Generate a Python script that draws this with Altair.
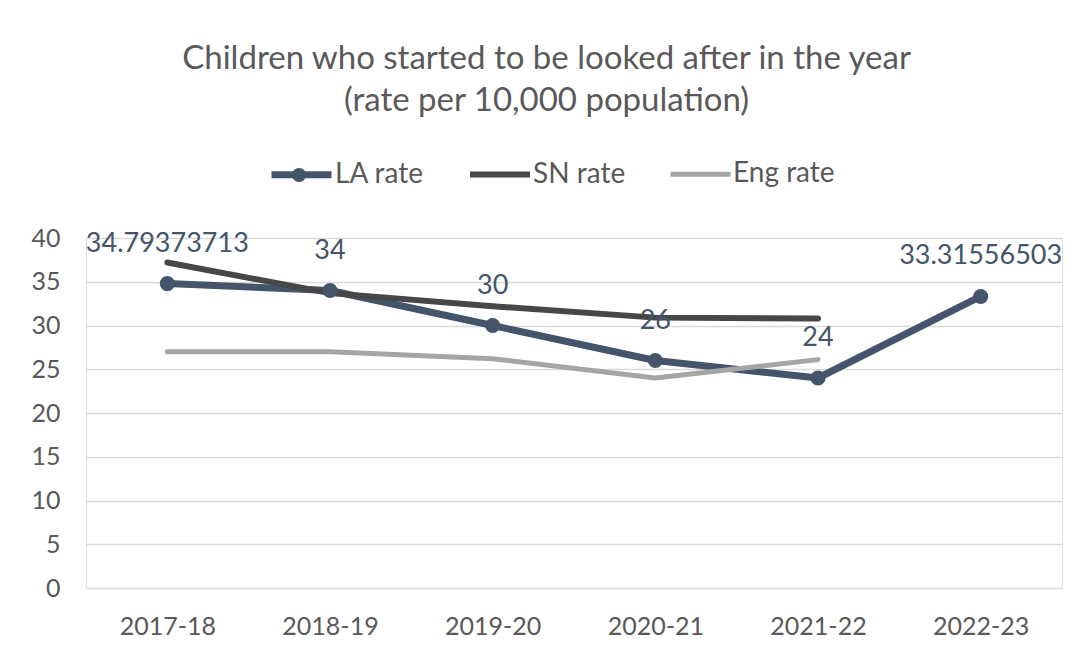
import altair as alt
import pandas as pd

years = ["2017-18", "2018-19", "2019-20", "2020-21", "2021-22", "2022-23"]
series_names = ["LA rate", "SN rate", "Eng rate"]
la_rate = [34.79373713, 34, 30, 26, 24, 33.31556503]
la_labels = ["34.79373713", "34", "30", "26", "24", "33.31556503"]
sn_rate = [37.2, 33.7, 32.2, 30.9, 30.8, None]
eng_rate = [27.0, 27.0, 26.2, 24.0, 26.1, None]
y_ticks = [0, 5, 10, 15, 20, 25, 30, 35, 40]
colors = ["#44546A", "#474747", "#A5A5A5"]
widths = [7, 5, 5]

rows = []
for name, vals in zip(series_names, [la_rate, sn_rate, eng_rate]):
    for yr, v in zip(years, vals):
        if v is not None:
            rows.append({"year": yr, "series": name, "value": v})
df = pd.DataFrame(rows)
la_df = pd.DataFrame({"year": years, "value": la_rate, "label": la_labels,
                      "series": ["LA rate"] * len(years)})

FONT = "Lato"
GREY = "#595959"
LEG_X = 182
LEG_Y = -97

x_enc = alt.X("year:N", sort=years, scale=alt.Scale(type="point", padding=0.5),
              axis=alt.Axis(title=None, labelFontSize=25, labelColor=GREY, labelFont=FONT,
                            ticks=False, domain=False, labelPadding=26, grid=False,
                            labelAngle=0))
y_enc = alt.Y("value:Q", scale=alt.Scale(domain=[0, 40], nice=False),
              axis=alt.Axis(title=None, values=y_ticks, labelFontSize=25, labelColor=GREY,
                            labelFont=FONT, ticks=False, domain=False, labelPadding=26,
                            gridColor="#D9D9D9", gridWidth=1.5))

lines = alt.Chart(df).mark_line(strokeCap="round", strokeJoin="round").encode(
    x=x_enc, y=y_enc,
    color=alt.Color("series:N", scale=alt.Scale(domain=series_names, range=colors),
                    legend=alt.Legend(title=None, orient="none", direction="horizontal",
                                      legendX=LEG_X, legendY=LEG_Y,
                                      symbolType="stroke", symbolSize=3600,
                                      symbolStrokeWidth=5, labelFontSize=28,
                                      labelColor=GREY, labelFont=FONT, columnPadding=34,
                                      labelOffset=0, zindex=0)),
    strokeWidth=alt.StrokeWidth("series:N", scale=alt.Scale(domain=series_names, range=widths),
                                legend=None),
    order=alt.Order("series:N"),
)

points = alt.Chart(la_df).mark_point(filled=True, size=230, opacity=1, color=colors[0]).encode(
    x=alt.X("year:N", sort=years), y="value:Q",
    shape=alt.Shape("series:N", scale=alt.Scale(domain=["LA rate"], range=["circle"]),
                    legend=alt.Legend(title=None, orient="none", legendX=LEG_X + 17,
                                      legendY=LEG_Y + 20, symbolSize=200, labelFontSize=28,
                                      labelExpr="''", labelOpacity=0,
                                      symbolFillColor=colors[0],
                                      symbolStrokeColor=colors[0], symbolStrokeWidth=0,
                                      symbolOpacity=1, zindex=1)),
)

labels = alt.Chart(la_df).mark_text(dy=-40, fontSize=27, color=colors[0], font=FONT).encode(
    x=alt.X("year:N", sort=years), y="value:Q", text="label:N")

chart = alt.layer(lines, points, labels).resolve_legend(shape="independent").properties(
    width=976, height=350,
    padding={"left": 22, "top": 35, "right": 10, "bottom": 10},
    title=alt.TitleParams(
        text=["Children who started to be looked after in the year",
              "(rate per 10,000 population)"],
        fontSize=33, font=FONT, color=GREY, fontWeight="normal",
        lineHeight=42, anchor="middle", frame="bounds", offset=23),
).configure_view(stroke=None).configure(background="white")

chart.save("out.html", embed_options={"renderer": "svg", "actions": False})
